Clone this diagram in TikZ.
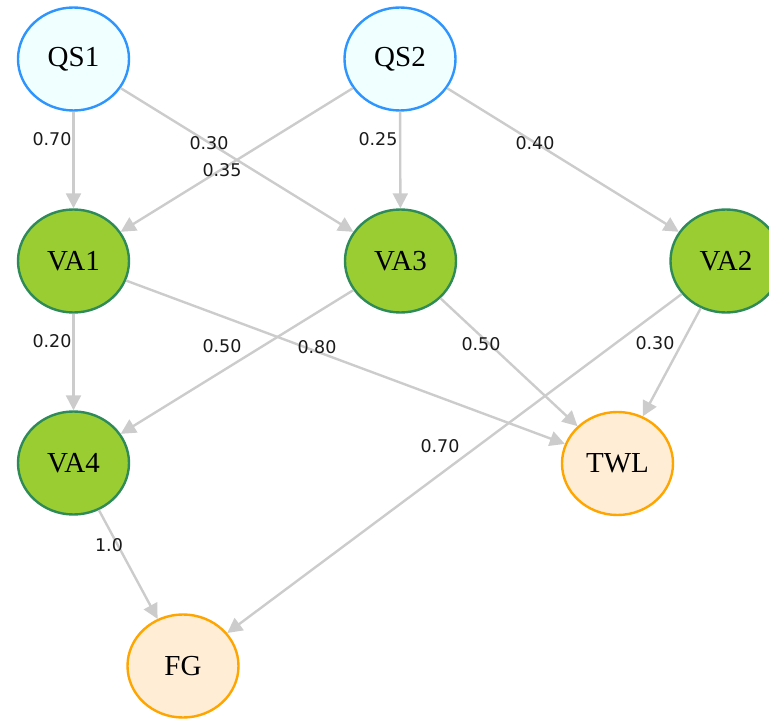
\documentclass[tikz,border=0pt]{standalone}
\usepackage{fontspec}
\setmainfont{Liberation Serif}
\newfontfamily\labfont{DejaVu Sans}
\usetikzlibrary{shapes.geometric,arrows.meta}
\definecolor{qsfill}{HTML}{F0FFFF}
\definecolor{qsdraw}{HTML}{2E95FF}
\definecolor{vafill}{HTML}{9ACD32}
\definecolor{vadraw}{HTML}{2E8B57}
\definecolor{outfill}{HTML}{FFEDD6}
\definecolor{outdraw}{HTML}{FFA500}
\definecolor{edgecol}{HTML}{CCCCCC}
\definecolor{labcol}{HTML}{1A1A1A}
\tikzset{
  nd/.style={ellipse, minimum width=111pt, minimum height=103pt, inner sep=0pt, line width=2.4pt, font=\fontsize{29}{29}\selectfont},
  qs/.style={nd, fill=qsfill, draw=qsdraw},
  va/.style={nd, fill=vafill, draw=vadraw},
  outn/.style={nd, fill=outfill, draw=outdraw},
  edge/.style={draw=edgecol, line width=2.4pt, -{Triangle[length=15pt,width=15pt]}},
  lab/.style={font=\labfont\fontsize{17.5}{17.5}\selectfont, text=labcol, inner sep=0pt}
}
\begin{document}
\begin{tikzpicture}[x=1pt,y=-1pt]
\useasboundingbox (0,0) rectangle (769,719);
\clip (0,0) rectangle (769,719);
\node[qs] (QS1) at (73.5,59) {QS1};
\node[qs] (QS2) at (400,59) {QS2};
\node[va] (VA1) at (73.5,261) {VA1};
\node[va] (VA3) at (400.5,261) {VA3};
\node[va] (VA2) at (726,261) {VA2};
\node[va] (VA4) at (73.5,463) {VA4};
\node[outn] (TWL) at (617.5,463.5) {TWL};
\node[outn] (FG) at (183,666) {FG};
\draw[edge] (QS1) -- (VA1);
\draw[edge] (QS1) -- (VA3);
\draw[edge] (QS2) -- (VA1);
\draw[edge] (QS2) -- (VA3);
\draw[edge] (QS2) -- (VA2);
\draw[edge] (VA1) -- (VA4);
\draw[edge] (VA3) -- (VA4);
\draw[edge] (VA1) -- (TWL);
\draw[edge] (VA3) -- (TWL);
\draw[edge] (VA2) -- (TWL);
\draw[edge] (VA2) -- (FG);
\draw[edge] (VA4) -- (FG);
\node[lab] (l1) at (52,139) {0.70};
\node[lab] (l2) at (209,143) {0.30};
\node[lab] (l3) at (222,170) {0.35};
\node[lab] (l4) at (378,139) {0.25};
\node[lab] (l5) at (535,143) {0.40};
\node[lab] (l6) at (52,341) {0.20};
\node[lab] (l7) at (222,346) {0.50};
\node[lab] (l8) at (317,347) {0.80};
\node[lab] (l9) at (481,344) {0.50};
\node[lab] (l10) at (655,343) {0.30};
\node[lab] (l11) at (440,446) {0.70};
\node[lab] (l12) at (109,545) {1.0};
\end{tikzpicture}
\end{document}
